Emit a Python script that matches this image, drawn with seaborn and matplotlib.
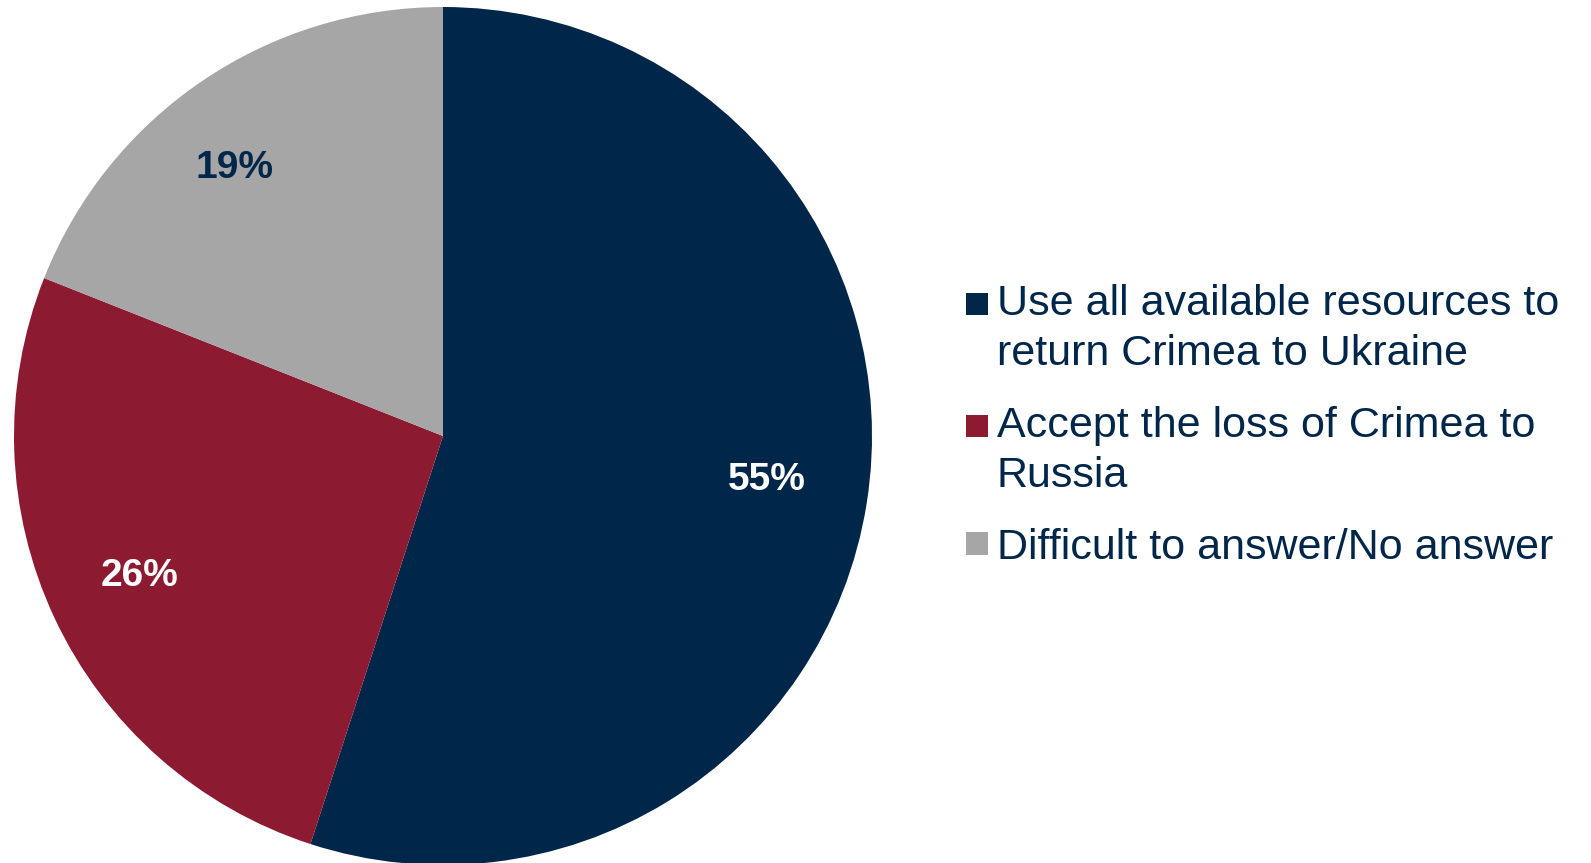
import matplotlib
matplotlib.use("Agg")
import matplotlib.pyplot as plt
import seaborn as sns
from matplotlib.patches import Patch, Rectangle
from matplotlib.legend_handler import HandlerPatch

# data
answers = ["Use all available resources to\nreturn Crimea to Ukraine",
           "Accept the loss of Crimea to\nRussia",
           "Difficult to answer/No answer"]
shares = [55, 26, 19]
pct_labels = ["55%", "26%", "19%"]
colors = ["#00264A", "#8C1A31", "#A6A6A6"]
pct_colors = ["white", "white", "#00264A"]
# small nudges of the % labels (Excel "best fit")
pct_nudge = [(0.015, 0.015), (-0.03, -0.008), (-0.065, 0.005)]

sns.set_theme(style="white")
plt.rcParams['font.family'] = ['Liberation Sans', 'DejaVu Sans']

LEG_FS = 31
LINESP = 1.33


class FirstLineSquare(HandlerPatch):
    # put the square next to the first line of a wrapped label
    def create_artists(self, legend, orig_handle, xdescent, ydescent,
                       width, height, fontsize, trans):
        nlines = orig_handle.get_label().count("\n") + 1
        step = 0.87 * LINESP * fontsize
        side = 0.52 * fontsize
        y0 = 0.36 * fontsize - side / 2 + (nlines - 1) / 2 * step
        r = Rectangle((-xdescent, y0), side, side,
                      facecolor=orig_handle.get_facecolor(), edgecolor="none",
                      transform=trans)
        return [r]


fig = plt.figure(figsize=(15.91, 8.63), dpi=100)
ax = fig.add_axes([14 / 1591, -2 / 863, 858 / 1591, 858 / 863])

wedges, texts, autotexts = ax.pie(
    shares, colors=colors, startangle=90, counterclock=False,
    autopct="%1.0f%%", pctdistance=0.75,
    wedgeprops=dict(linewidth=0, edgecolor="none"),
    textprops=dict(fontsize=28, fontweight="bold"))
for t, lab, c, (dx, dy) in zip(autotexts, pct_labels, pct_colors, pct_nudge):
    t.set_text(lab)
    t.set_color(c)
    x, y = t.get_position()
    t.set_position((x + dx, y + dy))
ax.set_xlim(-1, 1)
ax.set_ylim(-1, 1)
ax.set_aspect("equal")
ax.axis("off")

handles = [Patch(facecolor=c, label=l) for c, l in zip(colors, answers)]
leg = fig.legend(handles=handles, labels=answers, loc="upper left",
                 bbox_to_anchor=(966 / 1591, 1 - 284 / 863),
                 frameon=False, borderpad=0, borderaxespad=0,
                 fontsize=LEG_FS, handlelength=0.52, handleheight=0.7,
                 handletextpad=0.2, labelspacing=0.74,
                 labelcolor="#00264A",
                 handler_map={Patch: FirstLineSquare()})
for t in leg.get_texts():
    t.set_linespacing(LINESP)

fig.savefig("out.png", dpi=100)
